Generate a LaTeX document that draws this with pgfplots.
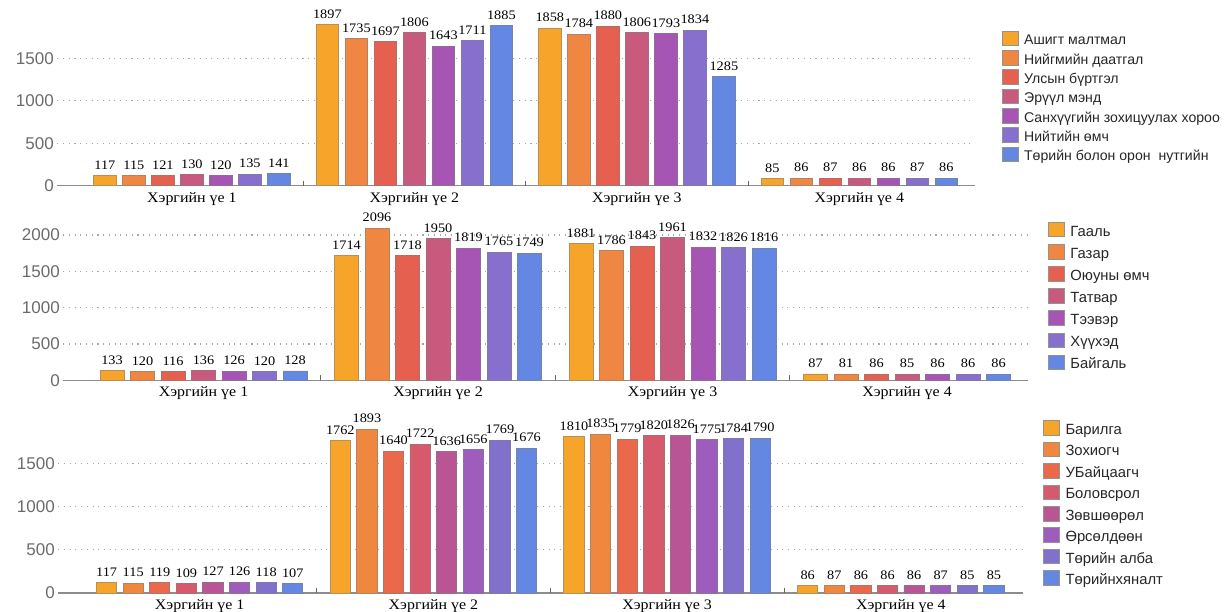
\documentclass[border=0pt]{standalone}
\usepackage{pgfplots}
\pgfplotsset{compat=1.18}
\usepackage{fontspec}
\setmainfont{Liberation Serif}
\setsansfont{Liberation Sans}
\newfontfamily\valfont[FakeStretch=1.1]{Liberation Serif}
\definecolor{a1}{RGB}{247,164,43}
\definecolor{a2}{RGB}{239,134,65}
\definecolor{a3}{RGB}{230,96,79}
\definecolor{a4}{RGB}{200,90,126}
\definecolor{a5}{RGB}{167,85,180}
\definecolor{a6}{RGB}{135,112,205}
\definecolor{a7}{RGB}{100,135,227}
\definecolor{d1}{RGB}{247,164,43}
\definecolor{d2}{RGB}{240,135,62}
\definecolor{d3}{RGB}{234,105,75}
\definecolor{d4}{RGB}{214,90,108}
\definecolor{d5}{RGB}{185,85,148}
\definecolor{d6}{RGB}{158,92,188}
\definecolor{d7}{RGB}{130,112,205}
\definecolor{d8}{RGB}{100,135,226}
\pgfplotsset{
  barsty/.style={fill=#1, draw=#1!45!gray, line width=0.9pt,
    legend image code/.code={\draw[##1,/tikz/.cd,draw=gray!85,line width=0.8pt] (0pt,-4.5pt) rectangle (16pt,10pt);}},
  common/.style={
    scale only axis,
    axis lines*=left,
    y axis line style={draw=none},
    x axis line style={draw=gray!90, line width=1.2pt, -},
    xmin=-0.605, xmax=3.52, ymin=0,
    xtick={0,1,2,3},
    xticklabels={Хэргийн үе 1,Хэргийн үе 2,Хэргийн үе 3,Хэргийн үе 4},
    major tick length=0pt,
    tick align=inside,
    extra x ticks={0.5,1.5,2.5},
    extra x tick labels={},
    extra x tick style={major tick length=5pt, tick align=inside, tick style={draw=black!60, line width=0.8pt}},
    ytick style={draw=none},
    ymajorgrids,
    major grid style={draw=gray!70, line width=1.1pt, dash pattern=on 1.1pt off 4.6pt},
    /pgf/number format/assume math mode=true,
    /pgf/number format/1000 sep={},
    yticklabel style={font=\sffamily\fontsize{17}{17}\selectfont, text=black!58},
    xticklabel style={font=\valfont\fontsize{14.5}{15}\selectfont, text=black, yshift=-3pt},
    nodes near coords,
    nodes near coords style={font=\valfont\fontsize{13}{13}\selectfont, text=black, yshift=2.5pt},
    clip=false,
    legend cell align=left,
    leg/.style={draw=none, fill=none, anchor=north west,
      inner sep=0pt, row sep=##1, font=\sffamily\fontsize{14.8}{16}\selectfont, text=black!85,
      nodes={inner sep=1pt, text height=10.6pt, text depth=3.1pt},
      /tikz/every odd column/.append style={column sep=4.5pt}},
  },
}
\begin{document}
\begin{tikzpicture}[x=1pt,y=1pt]
\path[use as bounding box] (0,0) rectangle (1226,612);
% ---------- panel 1 ----------
\begin{axis}[common,
  at={(57.3pt,426.3pt)}, anchor=south west,
  width=917.7pt, height=169.6pt, ymax=2000,
  ytick={0,500,1000,1500},
  ybar=6.5pt, bar width=22.5pt,
  legend style={leg=1.1pt, at={(axis description cs:1.029,0.915)}, font=\sffamily\fontsize{14.1}{16}\selectfont},
]
\addplot[barsty=a1] coordinates {(0,117) (1,1897) (2,1858) (3,85)};
\addplot[barsty=a2] coordinates {(0,115) (1,1735) (2,1784) (3,86)};
\addplot[barsty=a3] coordinates {(0,121) (1,1697) (2,1880) (3,87)};
\addplot[barsty=a4] coordinates {(0,130) (1,1806) (2,1806) (3,86)};
\addplot[barsty=a5] coordinates {(0,120) (1,1643) (2,1793) (3,86)};
\addplot[barsty=a6] coordinates {(0,135) (1,1711) (2,1834) (3,87)};
\addplot[barsty=a7] coordinates {(0,141) (1,1885) (2,1285) (3,86)};
\legend{Ашигт малтмал,Нийгмийн даатгал,Улсын бүртгэл,Эрүүл мэнд,Санхүүгийн зохицуулах хороо,Нийтийн өмч,Төрийн болон орон\ \ нутгийн}
\end{axis}
% ---------- panel 2 ----------
\begin{axis}[common,
  at={(63.3pt,231.7pt)}, anchor=south west,
  width=964.7pt, height=156.2pt, ymax=2150,
  ytick={0,500,1000,1500,2000},
  ybar=6.5pt, bar width=24pt,
  xmin=-0.598, xmax=3.516,
  legend style={leg=3.9pt, at={(axis description cs:1.0207,1.0154)}},
]
\addplot[barsty=a1] coordinates {(0,133) (1,1714) (2,1881) (3,87)};
\addplot[barsty=a2] coordinates {(0,120) (1,2096) (2,1786) (3,81)};
\addplot[barsty=a3] coordinates {(0,116) (1,1718) (2,1843) (3,86)};
\addplot[barsty=a4] coordinates {(0,136) (1,1950) (2,1961) (3,85)};
\addplot[barsty=a5] coordinates {(0,126) (1,1819) (2,1832) (3,86)};
\addplot[barsty=a6] coordinates {(0,120) (1,1765) (2,1826) (3,86)};
\addplot[barsty=a7] coordinates {(0,128) (1,1749) (2,1816) (3,86)};
\legend{Гааль,Газар,Оюуны өмч,Татвар,Тээвэр,Хүүхэд,Байгаль}
\end{axis}
% ---------- panel 3 ----------
\begin{axis}[common,
  at={(58.3pt,19pt)}, anchor=south west,
  width=965pt, height=168.6pt, ymax=1950,
  ytick={0,500,1000,1500},
  ybar=6.3pt, bar width=20.3pt,
  xmin=-0.605, xmax=3.524,
  legend style={leg=3.2pt, at={(axis description cs:1.0204,1.026)}},
]
\addplot[barsty=d1] coordinates {(0,117) (1,1762) (2,1810) (3,86)};
\addplot[barsty=d2] coordinates {(0,115) (1,1893) (2,1835) (3,87)};
\addplot[barsty=d3] coordinates {(0,119) (1,1640) (2,1779) (3,86)};
\addplot[barsty=d4] coordinates {(0,109) (1,1722) (2,1820) (3,86)};
\addplot[barsty=d5] coordinates {(0,127) (1,1636) (2,1826) (3,86)};
\addplot[barsty=d6] coordinates {(0,126) (1,1656) (2,1775) (3,87)};
\addplot[barsty=d7] coordinates {(0,118) (1,1769) (2,1784) (3,85)};
\addplot[barsty=d8] coordinates {(0,107) (1,1676) (2,1790) (3,85)};
\legend{Барилга,Зохиогч,УБайцаагч,Боловсрол,Зөвшөөрөл,Өрсөлдөөн,Төрийн алба,Төрийнхяналт}
\end{axis}
\end{tikzpicture}
\end{document}
